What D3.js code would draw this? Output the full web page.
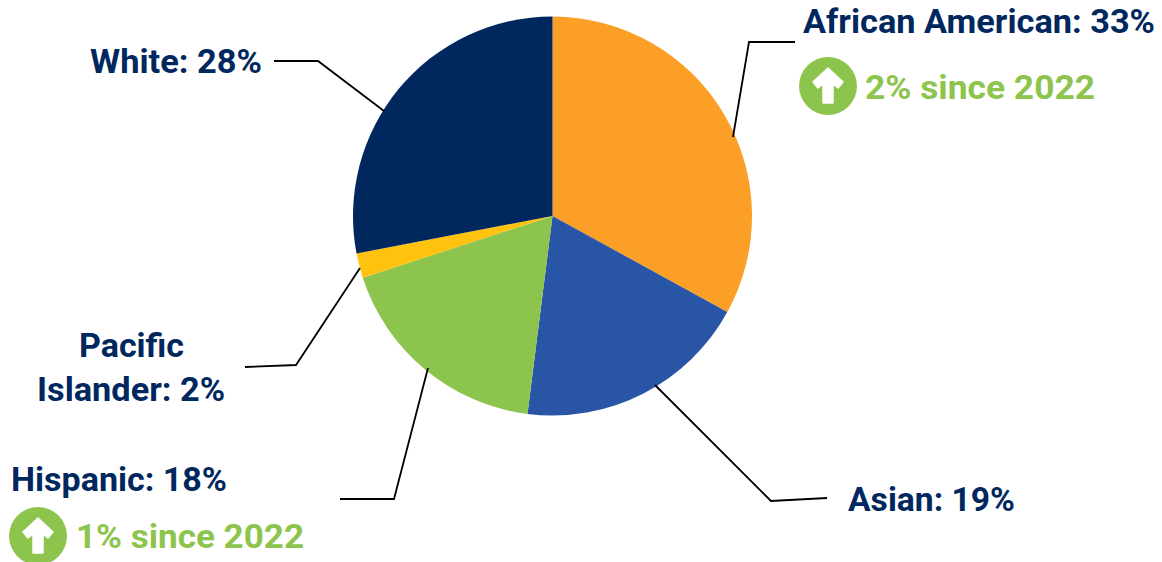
<!DOCTYPE html>
<html><head><meta charset="utf-8">
<script src="https://cdn.jsdelivr.net/npm/d3@7"></script>
<style>html,body{margin:0;padding:0;background:#fff}svg{display:block}text{font-family:Roboto,"Noto Sans",sans-serif;font-weight:700}</style>
</head><body><svg id="c" width="1162" height="562"></svg>
<script>
const categories=["African American","Asian","Hispanic","Pacific Islander","White"];
const values=[33,19,18,2,28];
const colors=["#FB9F26","#2855A5","#8DC44E","#FFC20E","#00285E"];
const NAVY="#00285E",GREEN="#8DC44E";
const cx=552.5,cy=216,R=199.5;
const svg=d3.select("#c");
const pie=d3.pie().sort(null).value(d=>d)(values);
const arc=d3.arc().innerRadius(0).outerRadius(R);
svg.append("g").attr("transform",`translate(${cx},${cy})`).selectAll("path").data(pie).join("path")
  .attr("d",arc).attr("fill",(d,i)=>colors[i]);
const leaders=[
 [[733,137],[749,42],[795,42]],
 [[655,385],[771,501],[827,498]],
 [[428,368],[394,499],[340,499]],
 [[360,268],[296,365],[245,367]],
 [[384,111],[318,61],[274,61]]];
const line=d3.line();
svg.append("g").selectAll("path").data(leaders).join("path").attr("d",line)
  .attr("fill","none").attr("stroke","#000").attr("stroke-width",1.8);
const labels=[
 {t:"African American: 33%",x:803,y:32.5,w:352,c:NAVY},
 {t:"Asian: 19%",x:848,y:511,w:167,c:NAVY},
 {t:"Hispanic: 18%",x:11,y:491,w:216,c:NAVY},
 {t:"Pacific",x:79,y:357,w:105,c:NAVY},
 {t:"Islander: 2%",x:37,y:401,w:188,c:NAVY},
 {t:"White: 28%",x:90,y:73,w:172,c:NAVY},
 {t:"2% since 2022",x:865,y:98.5,w:230,c:GREEN},
 {t:"1% since 2022",x:76,y:548,w:228,c:GREEN}];
svg.append("g").selectAll("text").data(labels).join("text")
  .attr("x",d=>d.x).attr("y",d=>d.y).attr("fill",d=>d.c).attr("font-size",33)
  .attr("textLength",d=>d.w).attr("lengthAdjust","spacingAndGlyphs").text(d=>d.t);
const badges=[[828,86],[38,536]];
const b=svg.append("g").selectAll("g").data(badges).join("g").attr("transform",d=>`translate(${d[0]},${d[1]})`);
b.append("circle").attr("r",29).attr("fill",GREEN);
b.append("path").attr("fill","#fff").attr("stroke","#fff").attr("stroke-width",1.5).attr("stroke-linejoin","round")
 .attr("d","M0,-18 L15,-4 L10,2 L5,-2 L5,17 L-5,17 L-5,-2 L-10,2 L-15,-4 Z");
</script></body></html>
